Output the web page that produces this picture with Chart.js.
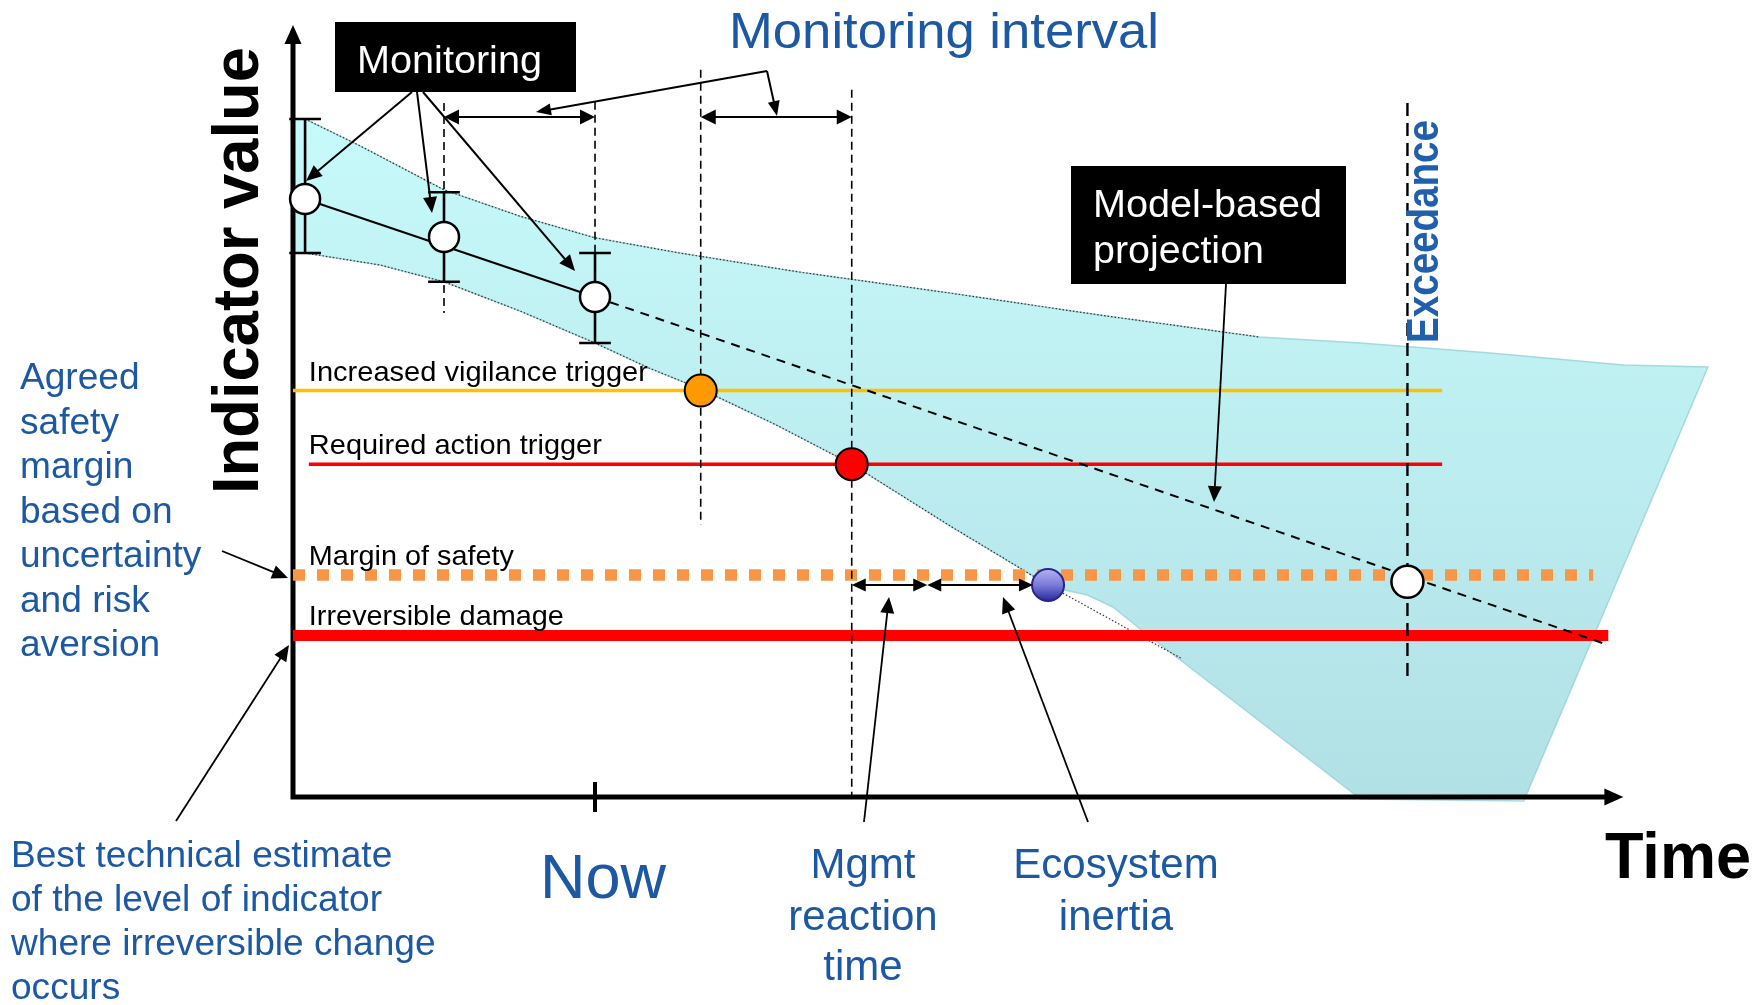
<!DOCTYPE html>
<html>
<head>
<meta charset="utf-8">
<title>Monitoring interval</title>
<script src="https://cdn.jsdelivr.net/npm/chart.js@4.4.1/dist/chart.umd.min.js"></script>
<style>
    html, body { margin: 0; padding: 0; background: #fff; }
    canvas { display: block; }
</style>
</head>
<body>
<canvas id="chart" width="1762" height="1005"></canvas>
<script>
// time: 10 units = one monitoring interval, value: indicator units

// monitoring observations with their error bars
const obsTime = [0.8, 10, 20];
const obsValue = [74.75, 70, 62.5];
const obsHigh = [84.75, 75.6, 68];
const obsLow = [68, 64.4, 56.75];

// model-based projection of the trend
const projTime = [20, 87.1];
const projValue = [62.5, 19];

// thresholds
const thresholdNames = ['Increased vigilance trigger', 'Required action trigger', 'Margin of safety', 'Irreversible damage'];
const thresholdValues = [50.8, 41.6, 27.75, 20.2];
const thresholdFrom = [0, 1.05, 0, 0];
const thresholdTo = [76.1, 76.1, 86.1, 87.1];

// events on the lower envelope and the projection
const triggerTime = [27, 37];
const triggerValue = [50.8, 41.6];
const impactTime = [50];
const impactValue = [26.5];
const exceedTime = [73.8];
const exceedValue = [26.9];

// dashed guides
const markTime = [10, 20, 27, 37];
const markTop = [86.75, 86.9, 90.9, 88.4];
const markBottom = [60.5, 56.75, 34, 0];
const exceedTop = 86.75;
const exceedBottom = 14.75;
const nowTime = 20;

// intervals shown with double arrows
const monitoringIntervals = [[10, 20], [27, 37]];
const monitoringArrowValue = 85;
const reactionIntervals = [[37, 42], [42, 49]];

// uncertainty envelope
const bandUpperTime = [0, 0.8, 4.44, 10, 15.03, 20, 25.6, 33.6, 43.5, 53.4, 64.0, 70.7, 79.3, 88.1, 93.7];
const bandUpperValue = [84.75, 84.75, 81.4, 75.9, 72.6, 69.9, 68.0, 65.6, 63.0, 60.25, 57.5, 56.75, 55.5, 54, 53.75];
const bandLowerTime = [0, 0.8, 5.76, 10, 15.03, 20, 23.6, 27, 31.9, 37, 43.5, 50, 51.0, 52.6, 54.3, 56.1, 58.5, 70.7, 81.5];
const bandLowerValue = [68, 68, 66.5, 64.4, 60.75, 56.75, 53.6, 51, 46.6, 41.6, 33.9, 26.5, 25.9, 25.25, 23.75, 21, 17.5, -0.25, -0.5];
const lowerEdgeTime = [0.8, 5.76, 10, 15.03, 20, 23.6, 27, 31.9, 37, 43.5, 50, 58.9];
const lowerEdgeValue = [68, 66.5, 64.4, 60.75, 56.75, 53.6, 51, 46.6, 41.6, 33.9, 26.5, 17.25];

// axis extent
const axisTimeEnd = 88.1;
const axisValueEnd = 96.5;

const BLUE = '#1c58a3';
const FONT = '"Liberation Sans", Arial, sans-serif';

function pts(xs, ys) {
    return xs.map((x, i) => ({ x: x, y: ys[i] }));
}

const bandPolygon = pts(bandUpperTime, bandUpperValue).concat(pts(bandLowerTime, bandLowerValue).reverse());

const capHalf = 1.05;
const errorBars = [];
obsTime.forEach((t, i) => {
    errorBars.push({ x: t, y: obsHigh[i] }, { x: t, y: obsLow[i] }, { x: t, y: null });
    errorBars.push({ x: t - capHalf, y: obsHigh[i] }, { x: t + capHalf, y: obsHigh[i] }, { x: t, y: null });
    errorBars.push({ x: t - capHalf, y: obsLow[i] }, { x: t + capHalf, y: obsLow[i] }, { x: t, y: null });
});

const guides = [];
markTime.forEach((t, i) => {
    guides.push({ x: t, y: markTop[i] }, { x: t, y: markBottom[i] }, { x: t, y: null });
});

function bandFill(context) {
    const chart = context.chart;
    if (!chart.chartArea) return '#c0f2f4';
    const y = chart.scales.y;
    const g = chart.ctx.createLinearGradient(0, y.getPixelForValue(85), 0, y.getPixelForValue(0));
    g.addColorStop(0, '#c7fafa');
    g.addColorStop(1, '#b1e0e5');
    return g;
}

function ballFill(context) {
    const chart = context.chart;
    if (!chart.chartArea || !context.parsed) return '#6b6bd0';
    const yp = chart.scales.y.getPixelForValue(context.parsed.y);
    const g = chart.ctx.createLinearGradient(0, yp - 16, 0, yp + 16);
    g.addColorStop(0, '#b3b3f2');
    g.addColorStop(0.5, '#7b7bdb');
    g.addColorStop(1, '#28289a');
    return g;
}

const thresholdColors = ['#ffc000', '#ff0000', '#f79646', '#ff0000'];
const thresholdWidths = [3.5, 3.5, 11.5, 11];
const thresholdDash = [[], [], [12, 12], []];
const labelWidths = [339, 293, 205, 255];

const datasets = [
    {
        data: bandPolygon, fill: 'shape', backgroundColor: bandFill,
        borderColor: 'rgba(150,210,215,0.8)', borderWidth: 1.5, order: 20
    },
    {
        data: pts(bandUpperTime.slice(1, 11), bandUpperValue.slice(1, 11)),
        borderColor: '#333', borderWidth: 1.2, borderDash: [1.5, 2], order: 19
    },
    {
        data: pts(lowerEdgeTime, lowerEdgeValue),
        borderColor: '#333', borderWidth: 1.2, borderDash: [1.5, 2], order: 19
    }
];

thresholdValues.forEach((v, i) => {
    datasets.push({
        data: [{ x: thresholdFrom[i], y: v }, { x: thresholdTo[i], y: v }],
        borderColor: thresholdColors[i], borderWidth: thresholdWidths[i],
        borderDash: thresholdDash[i], order: 14
    });
});

datasets.push(
    { data: guides, borderColor: '#000', borderWidth: 1.6, borderDash: [8, 5], order: 13 },
    {
        data: [{ x: exceedTime[0], y: exceedTop }, { x: exceedTime[0], y: exceedBottom }],
        borderColor: '#000', borderWidth: 2.4, borderDash: [13, 7], order: 13
    },
    {
        data: [{ x: obsTime[0], y: obsValue[0] }, { x: obsTime[2], y: obsValue[2] }],
        borderColor: '#000', borderWidth: 2.2, order: 12
    },
    {
        data: pts(projTime, projValue),
        borderColor: '#000', borderWidth: 2, borderDash: [9, 7], order: 12
    },
    { data: errorBars, borderColor: '#000', borderWidth: 2.6, order: 11 },
    {
        data: pts(obsTime, obsValue), showLine: false, pointRadius: 15,
        pointBackgroundColor: '#fff', pointBorderColor: '#000', pointBorderWidth: 2.5, order: 2
    },
    {
        data: pts(triggerTime, triggerValue), showLine: false, pointRadius: 16,
        pointBackgroundColor: ['#ff9900', '#ff0000'], pointBorderColor: '#000', pointBorderWidth: 2, order: 1
    },
    {
        data: pts(impactTime, impactValue), showLine: false, pointRadius: 16,
        pointBackgroundColor: ballFill, pointBorderColor: '#26268f', pointBorderWidth: 2, order: 1
    },
    {
        data: pts(exceedTime, exceedValue), showLine: false, pointRadius: 16,
        pointBackgroundColor: '#fff', pointBorderColor: '#000', pointBorderWidth: 2.5, order: 1
    }
);

datasets.forEach(d => {
    d.clip = false;
    if (d.pointRadius === undefined) d.pointRadius = 0;
});

function text(ctx, str, x, y, size, opts) {
    opts = opts || {};
    ctx.save();
    ctx.font = (opts.bold ? 'bold ' : '') + size + 'px ' + FONT;
    ctx.fillStyle = opts.color || '#000';
    ctx.textAlign = opts.align || 'left';
    ctx.textBaseline = 'alphabetic';
    ctx.translate(x, y);
    if (opts.rotate) ctx.rotate(opts.rotate);
    if (opts.width) ctx.scale(opts.width / ctx.measureText(str).width, 1);
    else if (opts.stretch) ctx.scale(opts.stretch, 1);
    ctx.fillText(str, 0, 0);
    ctx.restore();
}

function head(ctx, x1, y1, x2, y2, len, half) {
    const a = Math.atan2(y2 - y1, x2 - x1);
    const c = Math.cos(a), s = Math.sin(a);
    ctx.beginPath();
    ctx.moveTo(x2, y2);
    ctx.lineTo(x2 - len * c - half * s, y2 - len * s + half * c);
    ctx.lineTo(x2 - len * c + half * s, y2 - len * s - half * c);
    ctx.closePath();
    ctx.fill();
}

// polyline with an arrow head at the end (and at the start if both)
function arrow(ctx, p, o) {
    o = o || {};
    const len = o.len || 16, half = o.half || 7;
    const trim = (a, b) => {
        const dx = b[0] - a[0], dy = b[1] - a[1], d = Math.hypot(dx, dy);
        return [b[0] - dx / d * len * 0.6, b[1] - dy / d * len * 0.6];
    };
    const n = p.length;
    ctx.save();
    ctx.strokeStyle = ctx.fillStyle = '#000';
    ctx.lineWidth = o.width || 2;
    const first = o.both ? trim(p[1], p[0]) : p[0];
    const last = trim(p[n - 2], p[n - 1]);
    ctx.beginPath();
    ctx.moveTo(first[0], first[1]);
    for (let i = 1; i < n - 1; i++) ctx.lineTo(p[i][0], p[i][1]);
    ctx.lineTo(last[0], last[1]);
    ctx.stroke();
    head(ctx, p[n - 2][0], p[n - 2][1], p[n - 1][0], p[n - 1][1], len, half);
    if (o.both) head(ctx, p[1][0], p[1][1], p[0][0], p[0][1], len, half);
    ctx.restore();
}

const decorations = {
    id: 'decorations',
    afterDatasetDraw(chart, args) {
        if (args.index !== 0) return;
        // axes sit just above the envelope
        const ctx = chart.ctx, xs = chart.scales.x, ys = chart.scales.y;
        const x0 = xs.getPixelForValue(0), y0 = ys.getPixelForValue(0);
        const xe = xs.getPixelForValue(axisTimeEnd), ye = ys.getPixelForValue(axisValueEnd);
        ctx.save();
        ctx.strokeStyle = ctx.fillStyle = '#000';
        ctx.lineWidth = 5;
        ctx.beginPath();
        ctx.moveTo(x0, y0 + 2.5);
        ctx.lineTo(x0, ye + 14);
        ctx.moveTo(x0 - 2.5, y0);
        ctx.lineTo(xe - 14, y0);
        ctx.stroke();
        head(ctx, x0, y0, x0, ye, 19, 8.5);
        head(ctx, x0, y0, xe, y0, 19, 8.5);
        const xn = xs.getPixelForValue(nowTime);
        ctx.lineWidth = 4;
        ctx.beginPath();
        ctx.moveTo(xn, y0 - 15);
        ctx.lineTo(xn, y0 + 15);
        ctx.stroke();
        ctx.restore();
    },
    afterDatasetsDraw(chart) {
        const ctx = chart.ctx, xs = chart.scales.x, ys = chart.scales.y;
        const px = v => xs.getPixelForValue(v);
        const py = v => ys.getPixelForValue(v);

        thresholdNames.forEach((name, i) => {
            text(ctx, name, px(1.05), py(thresholdValues[i]) - 10, 28, { width: labelWidths[i] });
        });

        monitoringIntervals.forEach(r => {
            arrow(ctx, [[px(r[0]), py(monitoringArrowValue)], [px(r[1]), py(monitoringArrowValue)]],
                { both: true, len: 15, half: 7.5, width: 2.2 });
        });
        reactionIntervals.forEach(r => {
            arrow(ctx, [[px(r[0]), py(impactValue[0])], [px(r[1]), py(impactValue[0])]],
                { both: true, len: 14, half: 6.5, width: 2 });
        });

        // pointers
        arrow(ctx, [[767, 71], [536, 112]], { len: 15, half: 6 });
        arrow(ctx, [[767, 71], [777, 116]], { len: 15, half: 6 });
        arrow(ctx, [[412, 92], [306, 181]]);
        arrow(ctx, [[417, 92], [432, 213]]);
        arrow(ctx, [[423, 92], [575, 271]]);
        arrow(ctx, [[1226, 284], [1214, 502]], { width: 1.8 });
        arrow(ctx, [[864, 822], [889, 597]], { width: 1.8 });
        arrow(ctx, [[1088, 822], [1003, 597]], { width: 1.8 });
        arrow(ctx, [[222, 551], [288, 578]], { width: 1.8 });
        arrow(ctx, [[176, 821], [289, 645]], { width: 1.8 });

        // boxes
        ctx.save();
        ctx.fillStyle = '#000';
        ctx.fillRect(335, 22, 241, 70);
        ctx.fillRect(1071, 166, 275, 118);
        ctx.restore();
        text(ctx, 'Monitoring', 357, 73, 39, { color: '#fff', width: 185 });
        text(ctx, 'Model-based', 1093, 217, 39, { color: '#fff', width: 229 });
        text(ctx, 'projection', 1093, 263, 39, { color: '#fff', width: 171 });

        text(ctx, 'Monitoring interval', 729, 48, 50, { color: BLUE, width: 430 });
        text(ctx, 'Indicator value', 258, 494, 64, { bold: true, rotate: -Math.PI / 2, width: 447 });
        text(ctx, 'Exceedance', 1438, 343, 44, { bold: true, color: '#1f5fae', rotate: -Math.PI / 2, width: 223 });
        text(ctx, 'Time', 1605, 878, 64, { bold: true, width: 146 });
        text(ctx, 'Now', 540, 898, 63, { color: BLUE, width: 126 });

        ['Mgmt', 'reaction', 'time'].forEach((s, i) => {
            text(ctx, s, 863, [878, 930, 980][i], 42, { color: BLUE, align: 'center' });
        });
        ['Ecosystem', 'inertia'].forEach((s, i) => {
            text(ctx, s, 1116, [878, 930][i], 42, { color: BLUE, align: 'center' });
        });
        ['Agreed', 'safety', 'margin', 'based on', 'uncertainty', 'and risk', 'aversion'].forEach((s, i) => {
            text(ctx, s, 20, 389 + i * 44.5, 36, { color: BLUE, stretch: 1.03 });
        });
        ['Best technical estimate', 'of the level of indicator', 'where irreversible change', 'occurs'].forEach((s, i) => {
            text(ctx, s, 11, 867 + i * 44, 36, { color: BLUE, stretch: 1.03 });
        });
    }
};

new Chart(document.getElementById('chart'), {
    type: 'line',
    data: { datasets: datasets },
    options: {
        responsive: false,
        devicePixelRatio: 1,
        animation: false,
        events: [],
        layout: { autoPadding: false, padding: { left: 293, top: 0, right: 0, bottom: 208 } },
        elements: {
            point: { radius: 0, hoverRadius: 0 },
            line: { tension: 0, borderCapStyle: 'butt', fill: false }
        },
        plugins: { legend: { display: false }, tooltip: { enabled: false } },
        scales: {
            x: { type: 'linear', display: false, min: 0, max: 97.28 },
            y: { type: 'linear', display: false, min: 0, max: 99.625 }
        }
    },
    plugins: [decorations]
});
</script>
</body>
</html>
